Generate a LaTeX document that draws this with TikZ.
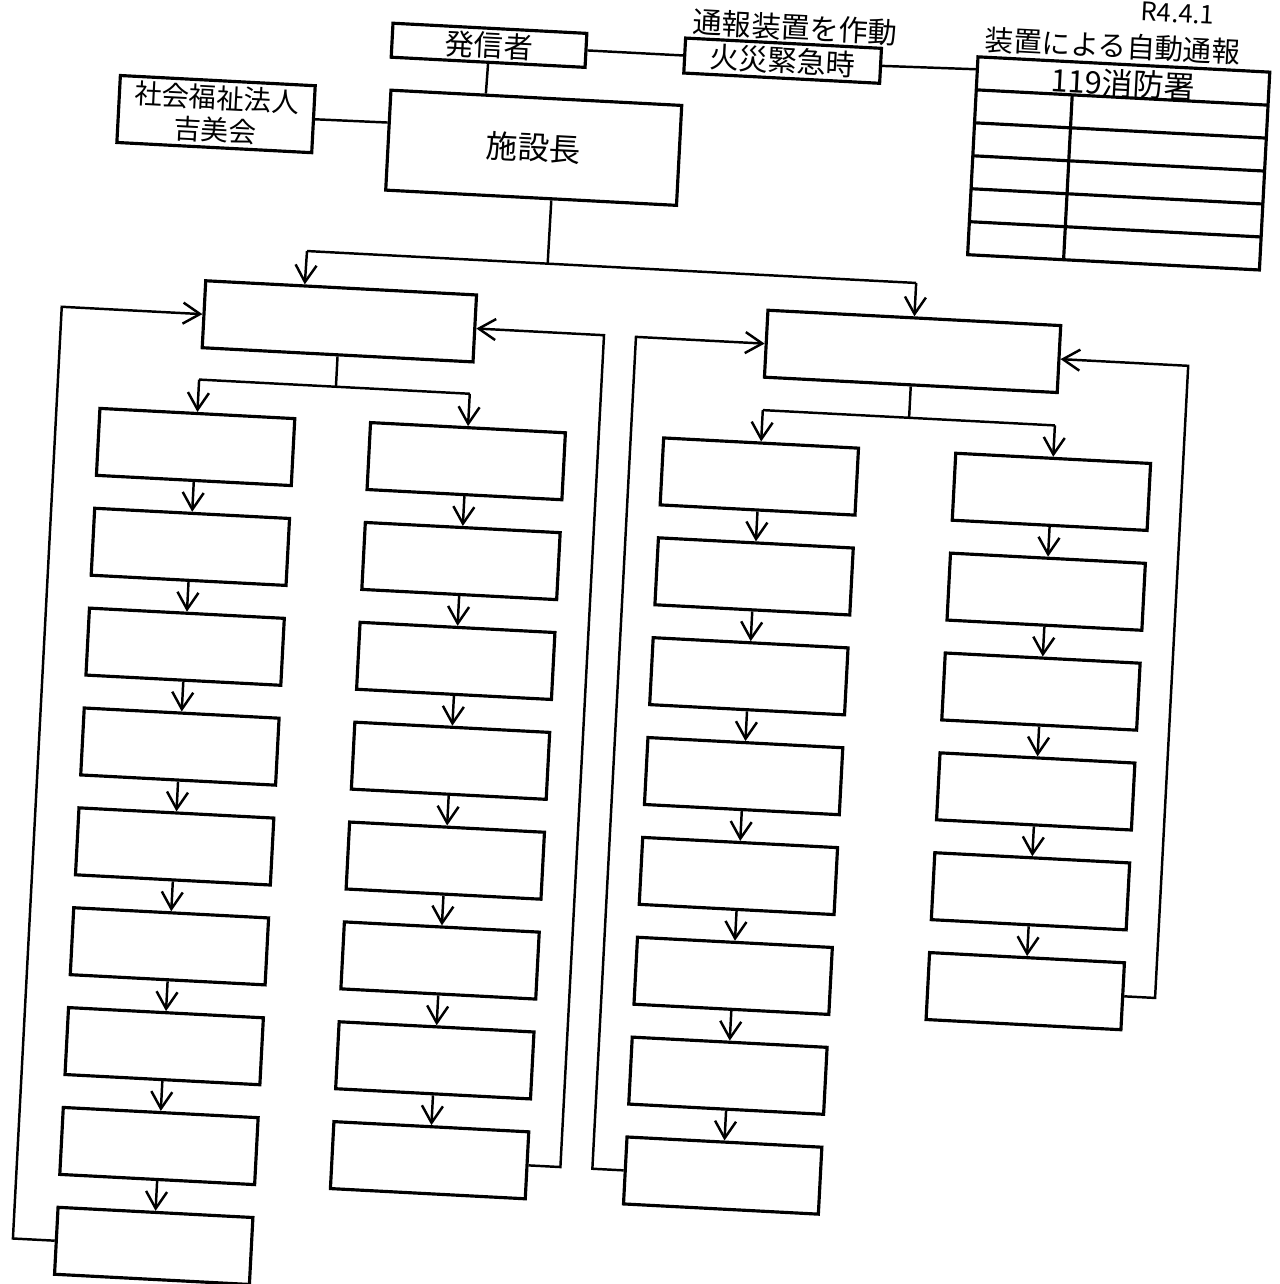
\documentclass[tikz,border=0pt]{standalone}
\usepackage{fontspec}
\setmainfont{Noto Sans CJK JP}
\usetikzlibrary{arrows.meta,calc}

\begin{document}
\begin{tikzpicture}[x=0.01cm, y=-0.01cm,
    box/.style={draw, line width=0.9pt, inner sep=0pt, minimum width=1.95cm, minimum height=0.67cm},
    link/.style={line width=0.7pt},
    flowarrow/.style={line width=0.7pt, -{Straight Barb[length=0.17cm, width=0.21cm]}},
    jptext/.style={font=\fontsize{8.3}{10}\selectfont},
    bigtext/.style={font=\fontsize{9}{11}\selectfont},
    note/.style={inner sep=0pt}
]
    \useasboundingbox (0,0) rectangle (1280,1284);
    \begin{scope}[rotate around={-3:(640,642)}, transform shape]
    % Caller and alarm
    \node[box, minimum width=1.94cm, minimum height=0.34cm, jptext] (sender) at (458,54) {発信者};
    \node[box, minimum width=1.96cm, minimum height=0.35cm, jptext] (alarm) at (752,54) {火災緊急時};
    \node[note, jptext] (alarmnote) at (763,20) {通報装置を作動};

    % Fire station table
    \node[draw, line width=0.9pt, inner sep=0pt, minimum width=2.92cm, minimum height=1.98cm] (station) at (1093,139) {};
    \foreach \y in {73,106,139,172,205}
        \draw[line width=0.9pt] (947,\y) -- (1239,\y);
    \draw[line width=0.9pt] (1043,73) -- (1043,238);
    \node[note, font=\fontsize{8.8}{10}\selectfont] (stationname) at (1093,59) {119消防署};
    \node[note, font=\fontsize{8.1}{10}\selectfont] (autonote) at (1081,22) {装置による自動通報};
    \node[note, font=\fontsize{7.3}{9}\selectfont] (date) at (1144,-14) {R4.4.1};

    % Head of facility and corporation
    \node[box, minimum width=2.91cm, minimum height=1cm, bigtext] (chief) at (508,154) {施設長};
    \node[box, align=center, font=\fontsize{7.8}{9.2}\selectfont] (corp) at (189,137) {社会福祉法人\\吉美会};

    % Top connectors
    \draw[link] (sender) -- (alarm);
    \draw[link] (alarm.east) -- ($(station.north west)!0.07!(station.south west)$);
    \draw[link] (sender.south) -- ($(chief.north west)!0.328!(chief.north east)$);
    \draw[link] (corp.east) -- ($(chief.north west)!0.33!(chief.south west)$);

    % Split into the two groups
    \coordinate (split) at (528,269);
    \coordinate (splitL) at (287,269);
    \coordinate (splitR) at (897,269);
    \draw[link] ($(chief.south west)!0.569!(chief.south east)$) -- (split);
    \draw[link] (splitL) -- (splitR);
    \node[box, minimum width=2.71cm] (leadL) at (323,337.5) {};
    \node[box, minimum width=2.93cm] (leadR) at (897,337.5) {};
    \draw[flowarrow] (splitL) -- ($(leadL.north west)!0.367!(leadL.north east)$);
    \draw[flowarrow] (splitR) -- (leadR);

    % Columns of boxes
    \foreach \i in {1,...,9} \node[box] (la\i) at (186,370.5+100*\i) {};
    \foreach \i in {1,...,8} \node[box] (lb\i) at (457,370.5+100*\i) {};
    \foreach \i in {1,...,8} \node[box] (ra\i) at (750.5,370.5+100*\i) {};
    \foreach \i in {1,...,6} \node[box] (rb\i) at (1043,370.5+100*\i) {};
    \foreach \col/\m in {la/8,lb/7,ra/7,rb/5}
        \foreach \i in {1,...,\m} {
            \pgfmathtruncatemacro\nxt{\i+1}
            \draw[flowarrow] (\col\i) -- (\col\nxt);
        }

    % Forks under the group leads
    \coordinate (forkL) at (323,403);
    \coordinate (forkLa) at (186,403);
    \coordinate (forkLb) at (457,403);
    \draw[link] (leadL) -- (forkL);
    \draw[link] (forkLa) -- (forkLb);
    \draw[flowarrow] (forkLa) -- (la1);
    \draw[flowarrow] (forkLb) -- (lb1);
    \coordinate (forkR) at (897,404);
    \coordinate (forkRa) at (750.5,404);
    \coordinate (forkRb) at (1043,404);
    \draw[link] (leadR) -- (forkR);
    \draw[link] (forkRa) -- (forkRb);
    \draw[flowarrow] (forkRa) -- (ra1);
    \draw[flowarrow] (forkRb) -- (rb1);

    % Return lines back to the leads
    \coordinate (backLw) at (45,337.5);
    \coordinate (backLwb) at (45,1270.5);
    \coordinate (backLe) at (588,337.5);
    \coordinate (backLeb) at (588,1170.5);
    \coordinate (backRw) at (620,337.5);
    \coordinate (backRwb) at (620,1170.5);
    \coordinate (backRe) at (1173,337.5);
    \coordinate (backReb) at (1173,970.5);
    \draw[flowarrow] (la9.west) -- (backLwb) -- (backLw) -- (leadL.west);
    \draw[flowarrow] (lb8.east) -- (backLeb) -- (backLe) -- (leadL.east);
    \draw[flowarrow] (ra8.west) -- (backRwb) -- (backRw) -- (leadR.west);
    \draw[flowarrow] (rb6.east) -- (backReb) -- (backRe) -- (leadR.east);
    \end{scope}
\end{tikzpicture}
\end{document}
